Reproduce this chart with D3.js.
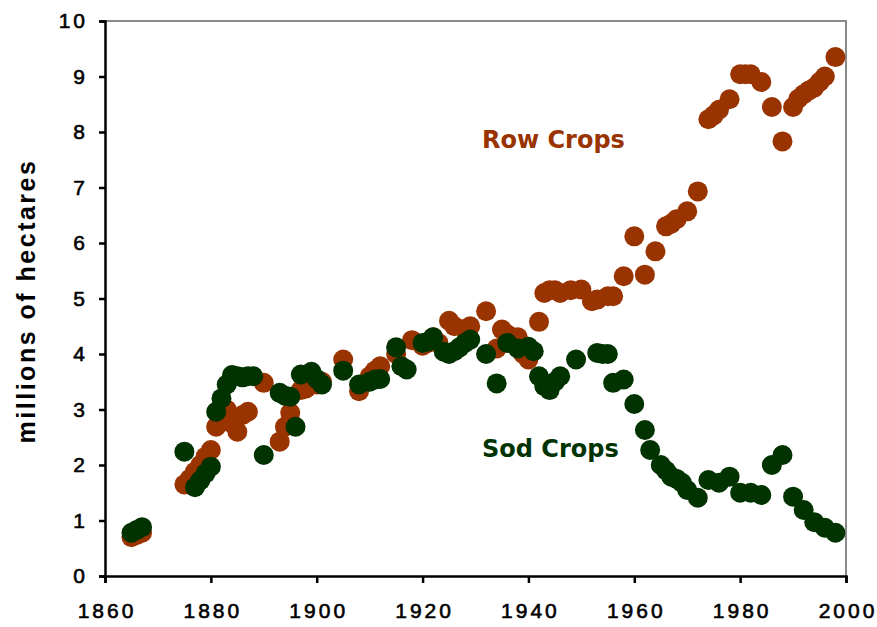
<!DOCTYPE html>
<html>
<head>
<meta charset="utf-8">
<script src="https://cdn.jsdelivr.net/npm/d3@7"></script>
<style>
  body { margin: 0; background: #fff; }
  text { font-family: "Liberation Sans", Arial, sans-serif; }
</style>
</head>
<body>
<svg id="chart" width="877" height="627"></svg>
<script>
// Row crops (millions of hectares)
const rowYears = [1865,1866,1867,1875,1876,1877,1878,1879,1880,1881,1882,1883,1884,1885,1886,1887,
  1890,1893,1894,1895,1897,1898,1900,1901,1905,1908,1910,1911,1912,1915,1918,1920,1921,1922,1923,
  1925,1926,1928,1929,1932,1934,1935,1936,1937,1938,1939,1940,1942,1943,1944,1945,1946,1948,1950,
  1952,1953,1955,1956,1958,1960,1962,1964,1966,1967,1968,1970,1972,1974,1975,1976,1978,1980,1981,
  1982,1984,1986,1988,1990,1991,1992,1993,1994,1995,1996,1998];
const rowValues = [0.70,0.74,0.78,1.65,1.75,1.88,2.0,2.15,2.27,2.69,2.85,3.0,2.75,2.6,2.9,2.96,
  3.48,2.42,2.69,2.94,3.35,3.38,3.45,3.5,3.9,3.33,3.6,3.7,3.78,4.0,4.25,4.15,4.2,4.3,4.2,
  4.6,4.5,4.45,4.5,4.77,4.1,4.44,4.35,4.3,4.3,4.0,3.9,4.58,5.1,5.15,5.15,5.1,5.15,5.16,
  4.95,4.98,5.04,5.04,5.4,6.12,5.43,5.85,6.3,6.35,6.43,6.57,6.93,8.23,8.3,8.4,8.59,9.04,9.04,
  9.04,8.9,8.45,7.83,8.45,8.6,8.68,8.75,8.8,8.9,9.0,9.35];

// Sod crops (millions of hectares)
const sodYears = [1865,1866,1867,1875,1877,1878,1879,1880,1881,1882,1883,1884,1885,1886,1887,1888,
  1890,1893,1894,1895,1896,1897,1899,1900,1901,1905,1908,1910,1911,1912,1915,1916,1917,1920,1921,
  1922,1924,1925,1926,1927,1928,1929,1932,1934,1936,1938,1940,1941,1942,1943,1944,1945,1946,1949,
  1953,1954,1955,1956,1958,1960,1962,1963,1965,1966,1967,1968,1969,1970,1972,1974,1976,1978,1980,
  1982,1984,1986,1988,1990,1992,1994,1996,1998];
const sodValues = [0.78,0.83,0.88,2.24,1.6,1.72,1.85,1.97,2.96,3.2,3.45,3.62,3.6,3.58,3.6,3.6,
  2.18,3.3,3.25,3.23,2.69,3.63,3.68,3.55,3.45,3.7,3.45,3.5,3.54,3.55,4.12,3.78,3.72,4.2,4.22,
  4.3,4.04,4.0,4.05,4.12,4.2,4.26,4.0,3.47,4.2,4.1,4.13,4.05,3.6,3.42,3.35,3.5,3.6,3.9,
  4.02,4.0,4.0,3.48,3.54,3.1,2.63,2.27,2.0,1.9,1.79,1.75,1.68,1.55,1.41,1.73,1.68,1.79,1.5,
  1.5,1.46,2.0,2.18,1.43,1.19,0.97,0.87,0.78];

const xTicks = [1860,1880,1900,1920,1940,1960,1980,2000];
const yTicks = [0,1,2,3,4,5,6,7,8,9,10];

const rowColor = "#993300";
const sodColor = "#003300";

const svg = d3.select("#chart");
const plotLeft = 105, plotRight = 846, plotTop = 21, plotBottom = 576;

const x = d3.scaleLinear().domain([1860, 2000]).range([plotLeft, plotRight]);
const y = d3.scaleLinear().domain([0, 10]).range([plotBottom, plotTop]);

// gray frame on top and right
svg.append("path")
   .attr("d", `M${plotLeft},${plotTop}H${plotRight}V${plotBottom}`)
   .attr("fill", "none")
   .attr("stroke", "#8a8a8a")
   .attr("stroke-width", 2);

// points
const rows = rowYears.map((yr, i) => ({yr, v: rowValues[i]}));
const sods = sodYears.map((yr, i) => ({yr, v: sodValues[i]}));

svg.append("g").selectAll("circle")
   .data(rows)
   .enter()
   .append("circle")
   .attr("cx", d => x(d.yr))
   .attr("cy", d => y(d.v))
   .attr("r", 10)
   .style("fill", rowColor);

svg.append("g").selectAll("circle")
   .data(sods)
   .enter()
   .append("circle")
   .attr("cx", d => x(d.yr))
   .attr("cy", d => y(d.v))
   .attr("r", 10)
   .style("fill", sodColor);

// axes
const xAxis = svg.append("g")
   .attr("transform", `translate(0,${plotBottom})`)
   .call(d3.axisBottom(x).tickValues(xTicks).tickFormat(d3.format("d")).tickSizeOuter(0).tickSize(7).tickPadding(20));

const yAxis = svg.append("g")
   .attr("transform", `translate(${plotLeft},0)`)
   .call(d3.axisLeft(y).tickValues(yTicks).tickSizeOuter(0).tickSize(6).tickPadding(11));

[xAxis, yAxis].forEach(g => {
  g.select(".domain").attr("stroke", "#000").attr("stroke-width", 2.5);
  g.selectAll(".tick line").attr("stroke", "#000").attr("stroke-width", 2.5);
  g.selectAll(".tick text")
   .attr("fill", "#000")
   .attr("stroke", "#000")
   .attr("stroke-width", 0.6)
   .style("font-family", '"Liberation Sans", Arial, sans-serif')
   .style("font-size", "21px")
   .style("letter-spacing", "3px");
});
xAxis.selectAll(".tick text").attr("dx", "1.5");

// axis title
svg.append("text")
   .attr("x", -301)
   .attr("y", 35)
   .attr("transform", "rotate(-90)")
   .style("text-anchor", "middle")
   .style("font-weight", "bold")
   .style("font-size", "25px")
   .style("letter-spacing", "2.5px")
   .text("millions of hectares");

// series labels
svg.append("text")
   .attr("x", 482).attr("y", 148)
   .style("font-family", '"DejaVu Sans", Verdana, sans-serif')
   .style("font-weight", "bold")
   .style("font-size", "24px")
   .style("fill", rowColor)
   .text("Row Crops");

svg.append("text")
   .attr("x", 482).attr("y", 457)
   .style("font-family", '"DejaVu Sans", Verdana, sans-serif')
   .style("font-weight", "bold")
   .style("font-size", "24px")
   .style("fill", sodColor)
   .text("Sod Crops");
</script>
</body>
</html>
